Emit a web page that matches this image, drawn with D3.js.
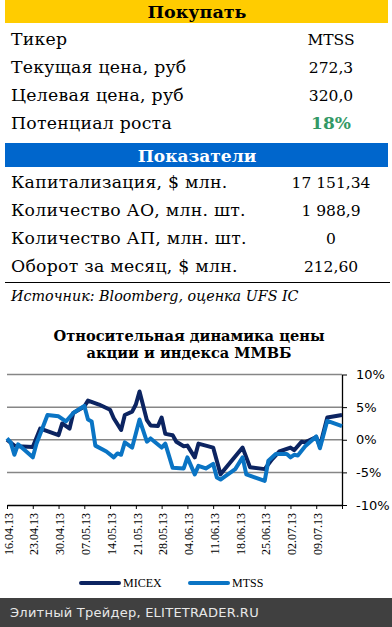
<!DOCTYPE html>
<html>
<head>
<meta charset="utf-8">
<script src="https://cdn.jsdelivr.net/npm/d3@7"></script>
<style>
  body { margin: 0; background: #fff; }
  svg { display: block; }
</style>
</head>
<body>
<div id="chart"></div>
<script>
// table rows
var buyLabels = ["Тикер", "Текущая цена, руб", "Целевая цена, руб", "Потенциал роста"];
var buyValues = ["MTSS", "272,3", "320,0", "18%"];
var statLabels = ["Капитализация, $ млн.", "Количество АО, млн. шт.", "Количество АП, млн. шт.", "Оборот за месяц, $ млн."];
var statValues = ["17 151,34", "1 988,9", "0", "212,60"];

// chart series (% change)
var micexDates = ["2013-04-16","2013-04-18","2013-04-19","2013-04-23","2013-04-25","2013-04-26","2013-04-30","2013-05-01","2013-05-03","2013-05-04","2013-05-07","2013-05-08","2013-05-11","2013-05-14","2013-05-15","2013-05-17","2013-05-18","2013-05-20","2013-05-21","2013-05-22","2013-05-24","2013-05-25","2013-05-27","2013-05-28","2013-05-29","2013-05-31","2013-06-01","2013-06-03","2013-06-04","2013-06-06","2013-06-07","2013-06-11","2013-06-13","2013-06-19","2013-06-21","2013-06-25","2013-06-27","2013-06-29","2013-07-02","2013-07-03","2013-07-05","2013-07-06","2013-07-09","2013-07-10","2013-07-12","2013-07-16"];
var micexValues = [0.0,-0.9,-1.0,-1.1,1.7,1.5,0.7,2.5,1.7,4.1,5.1,6.0,5.4,4.6,3.3,1.5,3.8,4.3,5.4,7.4,3.0,2.2,2.1,3.4,0.9,0.7,-0.3,-1.0,-0.9,-2.7,-0.6,-1.2,-5.3,-1.2,-4.2,-4.5,-3.0,-1.8,-1.2,-1.6,-0.3,-0.4,0.4,-1.0,3.4,3.8];
var mtssDates = ["2013-04-16","2013-04-17","2013-04-18","2013-04-19","2013-04-23","2013-04-24","2013-04-27","2013-04-30","2013-05-02","2013-05-04","2013-05-07","2013-05-08","2013-05-09","2013-05-10","2013-05-13","2013-05-15","2013-05-16","2013-05-17","2013-05-18","2013-05-20","2013-05-22","2013-05-24","2013-05-25","2013-05-28","2013-05-29","2013-05-31","2013-06-03","2013-06-04","2013-06-06","2013-06-07","2013-06-09","2013-06-11","2013-06-12","2013-06-13","2013-06-17","2013-06-19","2013-06-20","2013-06-25","2013-06-26","2013-06-28","2013-07-01","2013-07-02","2013-07-03","2013-07-04","2013-07-06","2013-07-09","2013-07-10","2013-07-12","2013-07-16"];
var mtssValues = [0.2,-0.4,-2.3,-0.7,-2.7,-0.6,3.8,3.6,2.8,4.1,5.2,3.1,2.8,-0.9,-1.8,-2.7,-2.1,-2.3,-0.4,-1.2,3.1,-0.3,0.2,-1.2,-0.6,-4.3,-4.4,-2.7,-5.3,-4.0,-4.4,-3.7,-5.8,-6.1,-4.5,-2.7,-5.3,-6.3,-3.2,-2.2,-2.2,-2.7,-2.3,-2.4,-1.0,0.5,-1.3,2.9,2.1];
var yTicks = [-10, -5, 0, 5, 10];
var seriesNames = ["MICEX", "MTSS"];
var seriesColors = ["#0c2461", "#0a74c4"];

var serif = "'DejaVu Serif', serif";

var svg = d3
  .select("#chart")
  .append("svg")
  .attr("width", 392)
  .attr("height", 627);

// ---- top table ----
svg.append("rect").attr("x", 5).attr("y", 0).attr("width", 383).attr("height", 23).attr("fill", "#ffcc00");
svg.append("text")
  .attr("x", 197).attr("y", 18)
  .attr("text-anchor", "middle")
  .style("font-family", serif).style("font-size", "17.5px").style("font-weight", "bold")
  .text("Покупать");

function drawRows(labels, values, top) {
  for (let i = 0; i < labels.length; i++) {
    svg.append("text")
      .attr("x", 11).attr("y", top + i * 28)
      .style("font-family", serif).style("font-size", "17.3px").style("letter-spacing", "0.25px")
      .text(labels[i]);
    svg.append("text")
      .attr("x", 331).attr("y", top + i * 28)
      .attr("text-anchor", "middle")
      .style("font-family", serif).style("font-size", "15.5px")
      .text(values[i]);
  }
}
drawRows(buyLabels, buyValues, 45);
// green potential
svg.selectAll("text").filter(function () { return d3.select(this).text() == "18%"; })
  .attr("fill", "#339966").style("font-weight", "bold").style("font-size", "17px");

svg.append("rect").attr("x", 5).attr("y", 143).attr("width", 383).attr("height", 24).attr("fill", "#0066cc");
svg.append("text")
  .attr("x", 197).attr("y", 162)
  .attr("text-anchor", "middle").attr("fill", "#fff")
  .style("font-family", serif).style("font-size", "17px").style("font-weight", "bold")
  .text("Показатели");

drawRows(statLabels, statValues, 188);

svg.append("line").attr("x1", 5).attr("x2", 390).attr("y1", 282.5).attr("y2", 282.5).attr("stroke", "#000");
svg.append("text")
  .attr("x", 11).attr("y", 301)
  .style("font-family", serif).style("font-size", "14.3px").style("font-style", "italic")
  .text("Источник: Bloomberg, оценка UFS IC");

// ---- chart ----
svg.append("text")
  .attr("x", 189).attr("text-anchor", "middle")
  .style("font-family", serif).style("font-size", "14.6px").style("font-weight", "bold")
  .selectAll("tspan")
  .data(["Относительная динамика цены", "акции и индекса ММВБ"])
  .enter()
  .append("tspan")
  .attr("x", 189)
  .attr("y", function (d, i) { return 341 + i * 17; })
  .text(function (d) { return d; });

var parseDate = d3.timeParse("%Y-%m-%d");
var start = parseDate("2013-04-16");
var end = parseDate("2013-07-16");

var x = d3.scaleTime().domain([start, end]).range([7, 342]);
var y = d3.scaleLinear().domain([-10, 10]).range([505, 374.5]);

// gridlines
svg.append("g")
  .selectAll("line")
  .data(yTicks.filter(function (d) { return d > -10; }))
  .enter()
  .append("line")
  .attr("x1", 7).attr("x2", 342)
  .attr("y1", function (d) { return y(d); })
  .attr("y2", function (d) { return y(d); })
  .attr("stroke", "#868686").attr("stroke-width", 1.5);

var weekTicks = d3.timeDay.range(start, d3.timeDay.offset(end, 1), 7);
var fmt = d3.timeFormat("%d.%m.%y");

var xAxis = svg.append("g")
  .attr("transform", "translate(0,505)")
  .call(d3.axisBottom(x).tickValues(weekTicks).tickSize(4).tickSizeOuter(0)
    .tickFormat(function (d, i) { return i < weekTicks.length - 1 ? fmt(d) : ""; }));
xAxis.select(".domain").attr("stroke", "#000").attr("stroke-width", 1.3);
xAxis.selectAll("text")
  .attr("transform", "rotate(-90)")
  .attr("x", -8).attr("y", 1).attr("dy", "0.35em")
  .style("text-anchor", "end")
  .style("font-family", "'Liberation Serif', serif").style("font-size", "12px")
  .attr("fill", "#000");

var yAxis = svg.append("g")
  .attr("transform", "translate(342,0)")
  .call(d3.axisRight(y).tickValues(yTicks).tickSize(5).tickPadding(9).tickSizeOuter(0)
    .tickFormat(function (d) { return d + "%"; }));
yAxis.select(".domain").attr("stroke", "#000").attr("stroke-width", 1.3);
yAxis.selectAll("text")
  .style("font-family", "'DejaVu Sans', sans-serif").style("font-size", "13px")
  .attr("fill", "#000");

var line = d3.line()
  .x(function (d) { return x(d.date); })
  .y(function (d) { return y(d.value); });

var series = [
  { dates: micexDates, values: micexValues },
  { dates: mtssDates, values: mtssValues }
];

series.forEach(function (s, k) {
  var pts = s.dates.map(function (d, i) { return { date: parseDate(d), value: s.values[i] }; });
  svg.append("path")
    .datum(pts)
    .attr("d", line)
    .attr("fill", "none")
    .attr("stroke", seriesColors[k])
    .attr("stroke-width", 4)
    .attr("stroke-linejoin", "round");
});

// legend
var legendX = [81, 190];
seriesNames.forEach(function (name, k) {
  svg.append("line")
    .attr("x1", legendX[k]).attr("x2", legendX[k] + 38)
    .attr("y1", 583).attr("y2", 583)
    .attr("stroke", seriesColors[k]).attr("stroke-width", 4).attr("stroke-linecap", "round");
  svg.append("text")
    .attr("x", legendX[k] + 42).attr("y", 587)
    .style("font-family", "'Liberation Serif', serif").style("font-size", "12px")
    .text(name);
});

// footer
svg.append("rect").attr("x", 0).attr("y", 598).attr("width", 392).attr("height", 29).attr("fill", "#404040");
svg.append("text")
  .attr("x", 10).attr("y", 617)
  .attr("fill", "#e8e8e8")
  .style("font-family", "'DejaVu Sans', sans-serif").style("font-size", "13px").style("letter-spacing", "0.25px")
  .text("Элитный Трейдер, ELITETRADER.RU");
</script>
</body>
</html>
